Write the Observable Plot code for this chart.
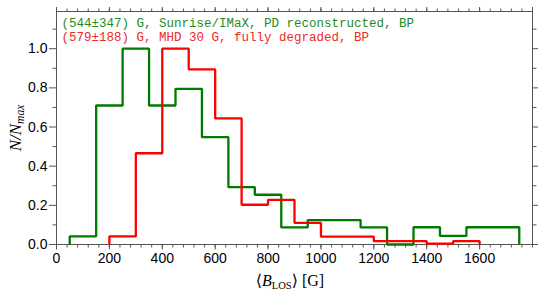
<!DOCTYPE html>
<html><head><meta charset="utf-8">
<script src="https://cdn.jsdelivr.net/npm/d3@7"></script>
<script src="https://cdn.jsdelivr.net/npm/@observablehq/plot@0.6"></script>
<style>html,body{margin:0;padding:0;background:#fff}#chart svg{display:block}</style>
</head><body><div id="chart"></div>
<script>
// Histogram bins (left edges, width 100 G) and normalized counts N/Nmax
const binWidth = 100;
const greenLeft = [50,150,250,350,450,550,650,750,850,950,1050,1150,1250,1350,1450,1550,1650];
const greenValues = [0.042,0.71,1.0,0.71,0.795,0.548,0.293,0.254,0.087,0.125,0.125,0.087,0.0,0.088,0.044,0.088,0.088];
const redLeft = [200,300,400,500,600,700,800,900,1000,1100,1200,1300,1400,1500];
const redValues = [0.042,0.466,1.0,0.894,0.644,0.203,0.228,0.11,0.04,0.04,0.017,0.017,0.004,0.017];

const xTickValues = [0,200,400,600,800,1000,1200,1400,1600];
const xTickAll = [0,200,400,600,800,1000,1200,1400,1600,1800];
const xMinor = d3.range(0, 1801, 40);
const yTickValues = [0,0.2,0.4,0.6,0.8,1.0];
const yMinor = [0.1,0.3,0.5,0.7,0.9,1.1];

const legendLabels = [
  "(544±347) G, Sunrise/IMaX, PD reconstructed, BP",
  "(579±188) G, MHD 30 G, fully degraded, BP"
];
const seriesColors = ["#007a00", "#ff0000"];
const textColors = ["#1f8a1f", "#ee2a2a"];

function steps(lefts, vals, name) {
  const pts = [{x: lefts[0], y: 0, s: name}];
  lefts.forEach((l, i) => {
    pts.push({x: l, y: vals[i], s: name});
    pts.push({x: l + binWidth, y: vals[i], s: name});
  });
  pts.push({x: lefts[lefts.length - 1] + binWidth, y: 0, s: name});
  return pts;
}
const greenPts = steps(greenLeft, greenValues, "green");
const redPts = steps(redLeft, redValues, "red");

const axisColor = "#555";
const noText = () => "";

const svg = Plot.plot({
  width: 545,
  height: 298,
  marginLeft: 56,
  marginRight: 13,
  marginTop: 11,
  marginBottom: 54,
  style: {fontFamily: "Liberation Sans, Arial, sans-serif", fontSize: "14px", background: "#fff", color: "#000"},
  x: {domain: [0, 1800]},
  y: {domain: [0, 1.19]},
  marks: [
    // bottom axis
    Plot.axisX(xMinor, {anchor: "bottom", tickSize: 3.5, tickFormat: noText, label: null, stroke: axisColor}),
    Plot.axisX(xTickValues, {anchor: "bottom", tickSize: 5.5, tickPadding: 3, tickFormat: d3.format("d"), label: null, stroke: axisColor, fill: "#000", fontSize: 14}),
    // top axis
    Plot.axisX(xMinor, {anchor: "top", tickSize: 3.5, tickFormat: noText, label: null, stroke: axisColor}),
    Plot.axisX(xTickAll, {anchor: "top", tickSize: 5, tickFormat: noText, label: null, stroke: axisColor}),
    // left axis
    Plot.axisY(yMinor, {anchor: "left", tickSize: 3.5, tickFormat: noText, label: null, stroke: axisColor}),
    Plot.axisY(yTickValues, {anchor: "left", tickSize: 7, tickPadding: 2, tickFormat: d3.format(".1f"), label: null, stroke: axisColor, fill: "#000", fontSize: 14}),
    // right axis
    Plot.axisY(yMinor, {anchor: "right", tickSize: 3.5, tickFormat: noText, label: null, stroke: axisColor}),
    Plot.axisY(yTickValues, {anchor: "right", tickSize: 5, tickFormat: noText, label: null, stroke: axisColor}),
    Plot.frame({stroke: axisColor, strokeWidth: 1}),
    Plot.line(greenPts, {x: "x", y: "y", stroke: seriesColors[0], strokeWidth: 2.3, strokeLinejoin: "miter", strokeLinecap: "butt"}),
    Plot.line(redPts, {x: "x", y: "y", stroke: seriesColors[1], strokeWidth: 2.3, strokeLinejoin: "miter", strokeLinecap: "butt"}),
    Plot.text([legendLabels[0]], {text: d => d, frameAnchor: "top-left", dx: 5, dy: 15.5, lineAnchor: "bottom", textAnchor: "start", fill: textColors[0], fontFamily: "Liberation Mono, monospace", fontSize: 12.5}),
    Plot.text([legendLabels[1]], {text: d => d, frameAnchor: "top-left", dx: 5, dy: 29, lineAnchor: "bottom", textAnchor: "start", fill: textColors[1], fontFamily: "Liberation Mono, monospace", fontSize: 12.5})
  ]
});

const s = d3.select(svg);
// x axis label: <B_LOS> [G]
const xl = s.append("text")
  .attr("x", 290).attr("y", 286)
  .attr("text-anchor", "middle")
  .attr("font-family", "Liberation Serif, DejaVu Serif, serif")
  .attr("font-size", 16)
  .attr("fill", "#000");
xl.append("tspan").text("⟨");
xl.append("tspan").attr("font-style", "italic").text("B");
xl.append("tspan").attr("font-size", 10.5).attr("dy", 3).text("LOS");
xl.append("tspan").attr("dy", -3).text("⟩ [G]");

// y axis label: N/N_max
const yl = s.append("text")
  .attr("transform", "translate(21,128) rotate(-90)")
  .attr("text-anchor", "middle")
  .attr("font-family", "Liberation Serif, DejaVu Serif, serif")
  .attr("font-size", 17)
  .attr("font-style", "italic")
  .attr("fill", "#000");
yl.append("tspan").text("N/N");
yl.append("tspan").attr("font-size", 11.5).attr("dy", 3).text("max");

document.getElementById("chart").appendChild(svg);
</script>
</body></html>
